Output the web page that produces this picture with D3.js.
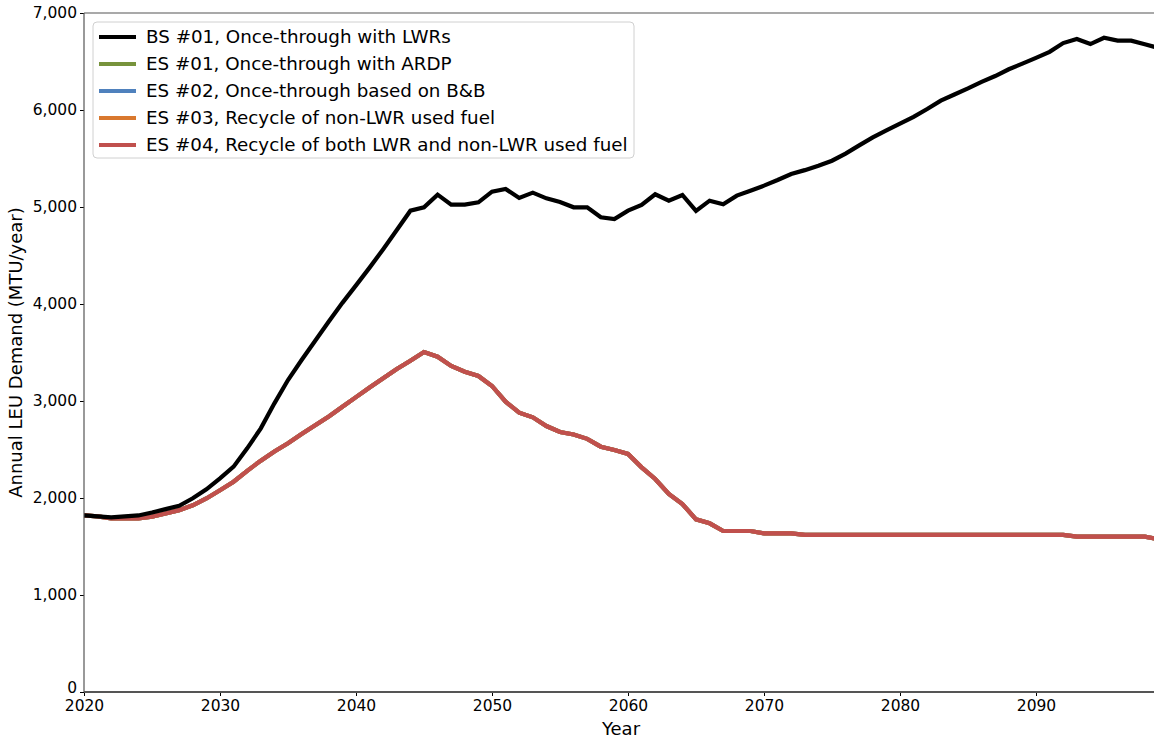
<!DOCTYPE html>
<html>
<head>
<meta charset="utf-8">
<script src="https://cdn.jsdelivr.net/npm/d3@7"></script>
<style>
  html, body { margin: 0; padding: 0; background: #fff; }
  svg { display: block; font-family: "DejaVu Sans", sans-serif; }
</style>
</head>
<body>
<svg id="chart" width="1154" height="742"></svg>
<script>
// Annual LEU demand (MTU/year), 2020-2099
const years = d3.range(2020, 2100);

const bsOnceThroughLWR = [
  1820, 1810, 1800, 1810, 1820, 1850, 1885, 1920, 1997, 2090,
  2203, 2323, 2512, 2718, 2976, 3216, 3423, 3622, 3820, 4012,
  4192, 4375, 4565, 4762, 4962, 4997, 5127, 5024, 5024, 5048,
  5158, 5186, 5093, 5148, 5089, 5052, 4997, 4997, 4894, 4876,
  4962, 5021, 5131, 5065, 5124, 4959, 5065, 5028, 5117, 5168,
  5220, 5278, 5340, 5380, 5425, 5477, 5550, 5635, 5718, 5790,
  5860, 5930, 6010, 6096, 6160, 6223, 6290, 6350, 6420, 6478,
  6538, 6600, 6690, 6732, 6680, 6745, 6715, 6715, 6677, 6640
];

const esRecycleBoth = [
  1820, 1810, 1790, 1790, 1790, 1808, 1840, 1875, 1925, 1995,
  2080, 2168, 2280, 2385, 2480, 2565, 2660, 2750, 2840, 2940,
  3040, 3140, 3235, 3330, 3415, 3505, 3457, 3361, 3302, 3258,
  3155, 2993, 2880, 2832, 2742, 2680, 2655, 2610, 2529, 2495,
  2454, 2316, 2196, 2041, 1938, 1780, 1739, 1660, 1660, 1660,
  1636, 1636, 1636, 1620, 1620, 1620, 1620, 1620, 1620, 1620,
  1620, 1620, 1620, 1620, 1620, 1620, 1620, 1620, 1620, 1620,
  1620, 1620, 1620, 1601, 1601, 1601, 1601, 1601, 1601, 1575
];

// The three other alternative scenarios follow the same demand path
// and sit underneath ES #04 in the drawing order.
const esOnceThroughARDP = esRecycleBoth.slice();
const esOnceThroughBB = esRecycleBoth.slice();
const esRecycleNonLWR = esRecycleBoth.slice();

const seriesNames = [
  "BS #01, Once-through with LWRs",
  "ES #01, Once-through with ARDP",
  "ES #02, Once-through based on B&B",
  "ES #03, Recycle of non-LWR used fuel",
  "ES #04, Recycle of both LWR and non-LWR used fuel"
];
const seriesValues = [bsOnceThroughLWR, esOnceThroughARDP, esOnceThroughBB, esRecycleNonLWR, esRecycleBoth];
const seriesColors = ["#000000", "#77933C", "#4F81BD", "#D9782E", "#C0504D"];

const xTicks = d3.range(2020, 2100, 10);
const yTicks = d3.range(0, 7001, 1000);

const svg = d3.select("#chart");
const margin = { left: 84, top: 13, bottom: 50 };
const H = 742;

const x = d3.scaleLinear().domain([2020, 2099]).range([margin.left, 1158.4]);
const y = d3.scaleLinear().domain([0, 7000]).range([H - margin.bottom, margin.top]);

svg.append("defs").append("clipPath").attr("id", "plotclip")
  .append("rect")
  .attr("x", x.range()[0]).attr("y", y.range()[1] - 4)
  .attr("width", x.range()[1] - x.range()[0]).attr("height", y.range()[0] - y.range()[1] + 8);

// series lines, drawn so the red ES #04 ends up on top of the other scenarios
const line = d3.line().x((d, i) => x(years[i])).y(d => y(d));
const drawOrder = [1, 2, 3, 4, 0];
const plot = svg.append("g").attr("clip-path", "url(#plotclip)");
drawOrder.forEach(k => {
  plot.append("path")
    .datum(seriesValues[k])
    .attr("fill", "none")
    .attr("stroke", seriesColors[k])
    .attr("stroke-width", 4.2)
    .attr("stroke-linejoin", "miter")
    .attr("d", line);
});

// axes
const axisColor = "#555";
const xAxis = svg.append("g")
  .attr("transform", `translate(0,${y(0)})`)
  .call(d3.axisBottom(x).tickValues(xTicks).tickFormat(d3.format("d")).tickSize(4).tickPadding(4));
const yAxis = svg.append("g")
  .attr("transform", `translate(${x(2020)},0)`)
  .call(d3.axisLeft(y).tickValues(yTicks).tickFormat(d3.format(",")).tickSize(4).tickPadding(3));

[xAxis, yAxis].forEach(g => {
  g.select(".domain").remove();
  g.selectAll(".tick line").attr("stroke", "#000").attr("stroke-width", 1);
  g.selectAll(".tick text").attr("fill", "#000").style("font-size", "15.5px").style("font-family", "DejaVu Sans");
});
// keep the "0" label clear of the first year label
yAxis.selectAll(".tick").filter(d => d === 0).select("text").attr("dy", "0.05em");

// spines
svg.append("line")
  .attr("x1", x(2020)).attr("x2", 1154).attr("y1", y(0)).attr("y2", y(0))
  .attr("stroke", axisColor).attr("stroke-width", 2);
svg.append("line")
  .attr("x1", x(2020)).attr("x2", x(2020)).attr("y1", y(0)).attr("y2", y(7000))
  .attr("stroke", axisColor).attr("stroke-width", 1.2);
svg.append("line")
  .attr("x1", x(2020)).attr("x2", 1154).attr("y1", y(7000)).attr("y2", y(7000))
  .attr("stroke", axisColor).attr("stroke-width", 1.2);

// axis titles
svg.append("text")
  .attr("x", 621).attr("y", 735)
  .attr("text-anchor", "middle")
  .style("font-size", "18px")
  .text("Year");
svg.append("text")
  .attr("transform", `translate(22,${(y(0) + y(7000)) / 2}) rotate(-90)`)
  .attr("text-anchor", "middle")
  .style("font-size", "18px")
  .text("Annual LEU Demand (MTU/year)");

// legend
const legend = svg.append("g").attr("transform", "translate(93,22)");
legend.append("rect")
  .attr("x", 0).attr("y", 0).attr("width", 541).attr("height", 136)
  .attr("rx", 4).attr("fill", "#fff").attr("fill-opacity", 0.85)
  .attr("stroke", "#d0d0d0").attr("stroke-width", 1);
seriesNames.forEach((name, i) => {
  const ly = 15 + i * 27;
  legend.append("line")
    .attr("x1", 6).attr("x2", 43).attr("y1", ly).attr("y2", ly)
    .attr("stroke", seriesColors[i]).attr("stroke-width", 4.2);
  legend.append("text")
    .attr("x", 53).attr("y", ly).attr("dy", "0.35em")
    .style("font-size", "18.3px")
    .text(name);
});
</script>
</body>
</html>
